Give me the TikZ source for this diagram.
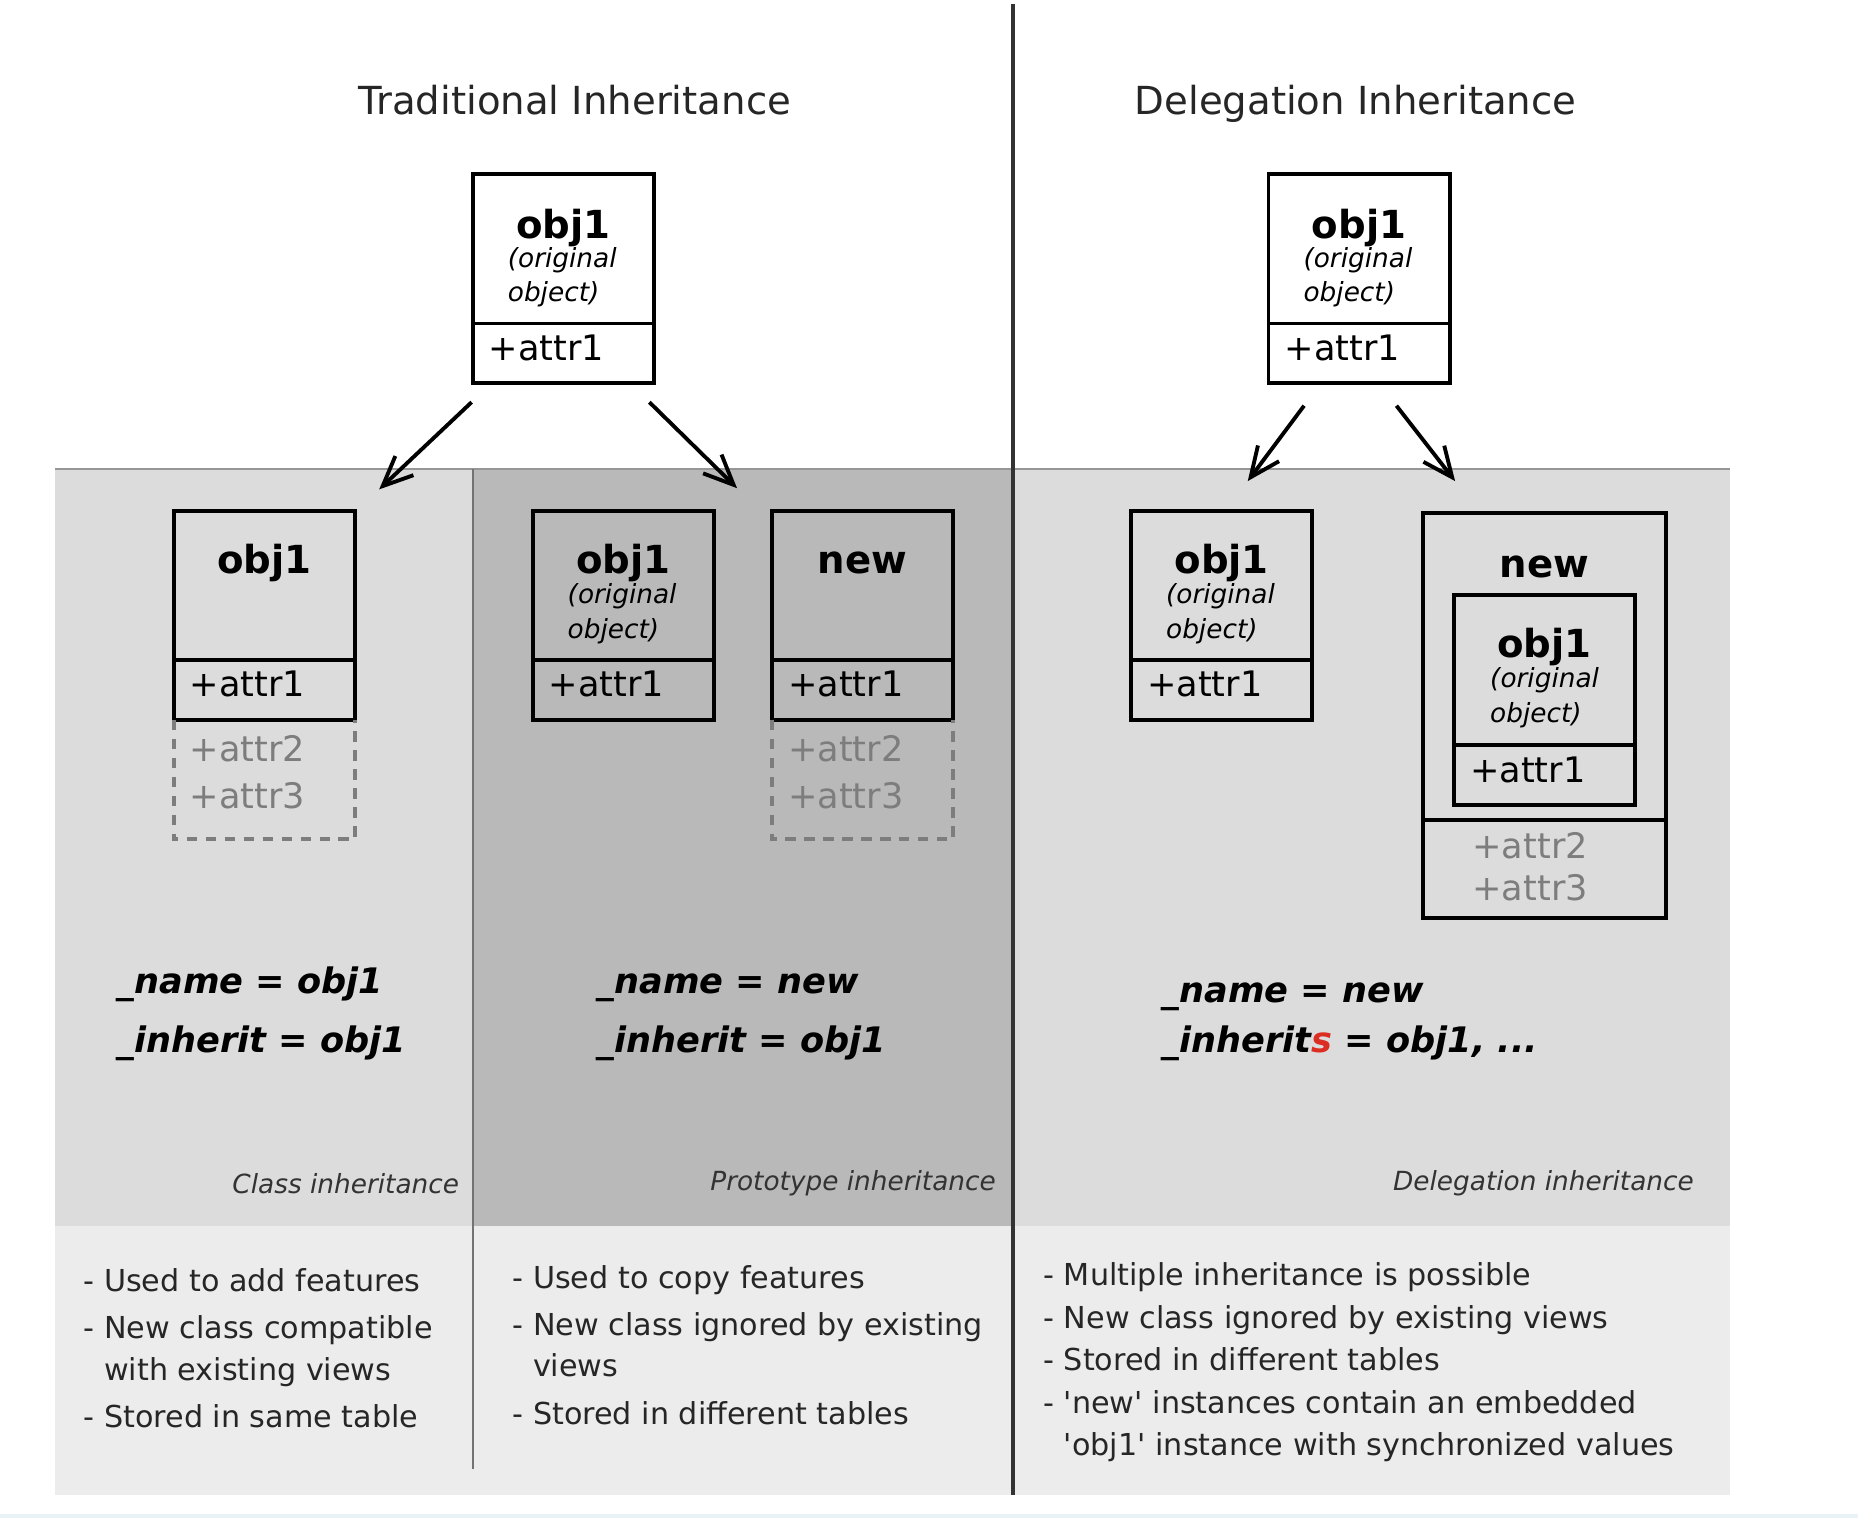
\documentclass[tikz,border=0pt]{standalone}
\usepackage{fontspec}
\setmainfont{DejaVu Sans}[Ligatures=TeXOff]
\usetikzlibrary{positioning,arrows.meta}
\definecolor{classgray}{RGB}{220,220,220}
\definecolor{protogray}{RGB}{185,185,185}
\definecolor{notegray}{RGB}{236,236,236}
\definecolor{rulegray}{RGB}{150,150,150}
\definecolor{attrgray}{RGB}{125,125,125}
\definecolor{darkline}{RGB}{51,51,51}
\definecolor{sred}{RGB}{220,45,35}
\definecolor{edgeblue}{RGB}{232,242,247}

\begin{document}
\begin{tikzpicture}[x=0.01185cm, y=-0.01185cm,
        head/.style={rectangle, draw, line width=1.1pt, inner sep=0pt, outer sep=0pt, minimum width=51.6pt, minimum height=42.5pt},
        attr/.style={head, minimum height=17pt},
        extra/.style={draw=attrgray, line width=1.1pt, dash pattern=on 3pt off 2.4pt},
        ttl/.style={font=\fontsize{11}{13}\selectfont, text=black!85, anchor=base, inner sep=0pt},
        oname/.style={font=\fontsize{11}{13}\selectfont\bfseries, anchor=base, inner sep=0pt},
        orig/.style={font=\fontsize{7.5}{9.8}\selectfont\itshape, align=left, anchor=north west, inner sep=0pt},
        attrtxt/.style={font=\fontsize{10}{12}\selectfont, anchor=base west, inner sep=0pt},
        extratxt/.style={attrtxt, text=attrgray},
        meta/.style={font=\fontsize{10}{12}\selectfont\bfseries\itshape, anchor=base west, inner sep=0pt},
        caption/.style={font=\fontsize{7.5}{9}\selectfont\itshape, text=black!80, anchor=base east, inner sep=0pt},
        notes/.style={font=\fontsize{8.6}{11.8}\selectfont, text=black!85, align=left, anchor=north west, inner sep=0pt},
        arrow/.style={-{Straight Barb[length=8.5pt,width=7.5pt]}, line width=1.1pt}]

    \useasboundingbox (0,0) rectangle (1568,1281);

    % panels
    \fill[classgray] (46,396) rectangle (399,1035);
    \fill[protogray] (399,396) rectangle (855,1035);
    \fill[classgray] (855,396) rectangle (1460,1035);
    \fill[notegray] (46,1035) rectangle (1460,1262);
    \fill[edgeblue] (0,1278) rectangle (1568,1281);
    \draw[rulegray, line width=0.6pt] (46,396) -- (1460,396);
    \draw[black!55, line width=0.5pt] (399,396) -- (399,1240);
    \draw[darkline, line width=1pt] (855,3) -- (855,1262);

    \node[ttl] (ttrad) at (485,97) {Traditional Inheritance};
    \node[ttl] (tdele) at (1144,97) {Delegation Inheritance};

    % original objects
    \node[head] (tsrc) at (475.5,210) {};
    \node[attr, below=0pt of tsrc] (tsrca) {};
    \node[oname] (tsrcn) at ([shift={(0,54)}]tsrc.north) {obj1};
    \node[orig] (tsrco) at ([shift={(29,61)}]tsrc.north west) {(original\\object)};
    \node[attrtxt] (tsrct) at ([shift={(13,31)}]tsrca.north west) {+attr1};

    \node[head] (dsrc) at (1147,210) {};
    \node[attr, below=0pt of dsrc] (dsrca) {};
    \node[oname] (dsrcn) at ([shift={(0,54)}]dsrc.north) {obj1};
    \node[orig] (dsrco) at ([shift={(29,61)}]dsrc.north west) {(original\\object)};
    \node[attrtxt] (dsrct) at ([shift={(13,31)}]dsrca.north west) {+attr1};

    % class inheritance
    \node[head] (cobj) at (223,494) {};
    \node[attr, below=0pt of cobj] (cobja) {};
    \node[oname] (cobjn) at ([shift={(0,53)}]cobj.north) {obj1};
    \node[attrtxt] (cobjt) at ([shift={(13,31)}]cobja.north west) {+attr1};
    \draw[extra] (cobja.south west) -- ++(0,101) -| (cobja.south east);
    \node[extratxt] (cobj2) at ([shift={(13,35)}]cobja.south west) {+attr2};
    \node[extratxt] (cobj3) at ([shift={(13,75)}]cobja.south west) {+attr3};

    % prototype inheritance
    \node[head] (pobj) at (526,494) {};
    \node[attr, below=0pt of pobj] (pobja) {};
    \node[oname] (pobjn) at ([shift={(0,53)}]pobj.north) {obj1};
    \node[orig] (pobjo) at ([shift={(29,61)}]pobj.north west) {(original\\object)};
    \node[attrtxt] (pobjt) at ([shift={(13,31)}]pobja.north west) {+attr1};

    \node[head] (pnew) at (728,494) {};
    \node[attr, below=0pt of pnew] (pnewa) {};
    \node[oname] (pnewn) at ([shift={(0,53)}]pnew.north) {new};
    \node[attrtxt] (pnewt) at ([shift={(13,31)}]pnewa.north west) {+attr1};
    \draw[extra] (pnewa.south west) -- ++(0,101) -| (pnewa.south east);
    \node[extratxt] (pnew2) at ([shift={(13,35)}]pnewa.south west) {+attr2};
    \node[extratxt] (pnew3) at ([shift={(13,75)}]pnewa.south west) {+attr3};

    % delegation inheritance
    \node[head] (dobj) at (1031,494) {};
    \node[attr, below=0pt of dobj] (dobja) {};
    \node[oname] (dobjn) at ([shift={(0,53)}]dobj.north) {obj1};
    \node[orig] (dobjo) at ([shift={(29,61)}]dobj.north west) {(original\\object)};
    \node[attrtxt] (dobjt) at ([shift={(13,31)}]dobja.north west) {+attr1};

    \node[head, minimum width=69.1pt, minimum height=87.3pt] (dnew) at (1303.5,562.5) {};
    \node[attr, minimum width=69.1pt, minimum height=28pt, below=0pt of dnew] (dnewa) {};
    \node[oname] (dnewn) at ([shift={(0,54)}]dnew.north) {new};
    \node[extratxt] (dnew2) at ([shift={(41,33)}]dnewa.north west) {+attr2};
    \node[extratxt] (dnew3) at ([shift={(41,68)}]dnewa.north west) {+attr3};

    \node[head, minimum height=42.8pt] (dinn) at (1303.5,565.5) {};
    \node[attr, below=0pt of dinn] (dinna) {};
    \node[oname] (dinnn) at ([shift={(0,53)}]dinn.north) {obj1};
    \node[orig] (dinno) at ([shift={(30,61)}]dinn.north west) {(original\\object)};
    \node[attrtxt] (dinnt) at ([shift={(13,31)}]dinna.north west) {+attr1};

    % arrows
    \coordinate (cin) at (320,413);
    \coordinate (pin) at (622,412);
    \coordinate (din) at (1053,406);
    \coordinate (nin) at (1228,406);
    \draw[arrow] ([shift={(-1,16)}]tsrca.south west) -- (cin);
    \draw[arrow] ([shift={(-4,16)}]tsrca.south east) -- (pin);
    \draw[arrow] ([shift={(30,19)}]dsrca.south west) -- (din);
    \draw[arrow] ([shift={(-45,19)}]dsrca.south east) -- (nin);

    % names
    \node[meta] (cname) at (98,838) {\_name = obj1};
    \node[meta] (cinh) at (98,888) {\_inherit = obj1};
    \node[meta] (pname) at (503,838) {\_name = new};
    \node[meta] (pinh) at (503,888) {\_inherit = obj1};
    \node[meta] (dname) at (980,846) {\_name = new};
    \node[meta] (dinh) at (980,888) {\_inherit{\color{sred}s} = obj1, ...};

    \node[caption] (ccap) at (388,1007) {Class inheritance};
    \node[caption] (pcap) at (841,1005) {Prototype inheritance};
    \node[caption] (dcap) at (1430,1005) {Delegation inheritance};

    % notes
    \node[notes] (cnote) at (70,1070) {- Used to add features\\[1.7pt]
        - New class compatible\\\phantom{- }with existing views\\[1.7pt]
        - Stored in same table};
    \node[notes] (pnote) at (432,1067) {- Used to copy features\\[1.7pt]
        - New class ignored by existing\\\phantom{- }views\\[1.7pt]
        - Stored in different tables};
    \node[notes, font=\fontsize{8.6}{12.1}\selectfont] (dnote) at (880,1065) {- Multiple inheritance is possible\\
        - New class ignored by existing views\\
        - Stored in different tables\\
        - 'new' instances contain an embedded\\\phantom{- }'obj1' instance with synchronized values};
\end{tikzpicture}
\end{document}
